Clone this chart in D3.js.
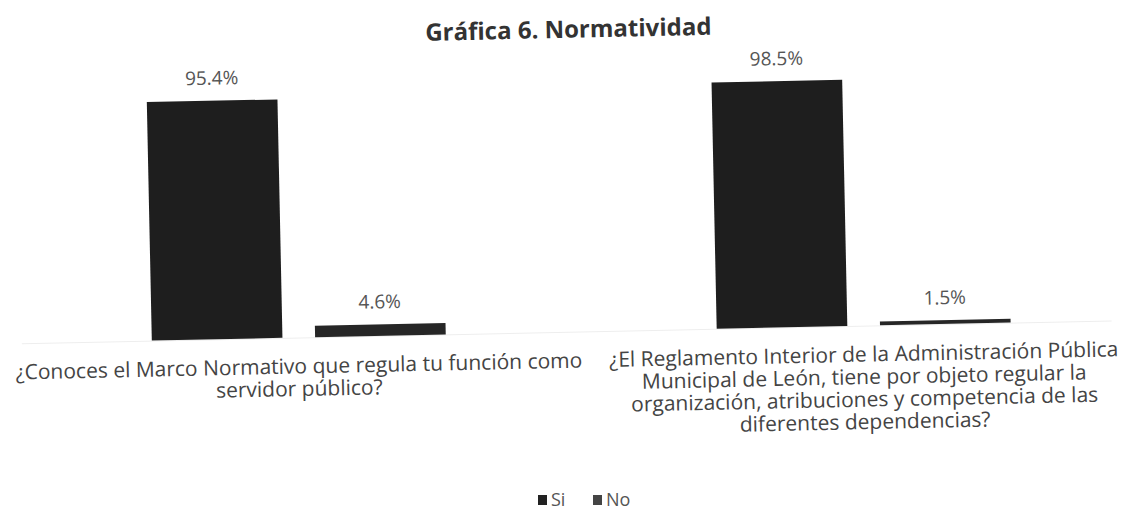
<!DOCTYPE html>
<html lang="es">
<head>
<meta charset="UTF-8">
<script src="https://d3js.org/d3.v7.min.js"></script>
<style>
  body { margin: 0; background: #fff; }
  text { font-family: "Open Sans", Lato, sans-serif; }
</style>
</head>
<body>
<div id="chart"></div>
<script>
// data
var categories = [
  "¿Conoces el Marco Normativo que regula tu función como servidor público?",
  "¿El Reglamento Interior de la Administración Pública Municipal de León, tiene por objeto regular la organización, atribuciones y competencia de las diferentes dependencias?"
];
var categoryLines = [
  ["¿Conoces el Marco Normativo que regula tu función como", "servidor público?"],
  ["¿El Reglamento Interior de la Administración Pública", "Municipal de León, tiene por objeto regular la", "organización, atribuciones y competencia de las", "diferentes dependencias?"]
];
var series = ["Si", "No"];
var siValues = [95.4, 98.5];
var noValues = [4.6, 1.5];

var width = 1125, height = 510;
var baseline = 332;

var data = categories.map(function(c, i) {
  return {cat: c, values: [{key: "Si", value: siValues[i]}, {key: "No", value: noValues[i]}]};
});

var svg = d3.select("#chart").append("svg")
  .attr("width", width)
  .attr("height", height);

// the scan is slightly tilted
var g = svg.append("g")
  .attr("transform", "rotate(-1.2, 560, 250)");

var x0 = d3.scaleBand().domain(categories).range([14, 1144]);
var x1 = d3.scaleBand().domain(series).range([136, 430]).paddingInner(0.2);
var y = d3.scaleLinear().domain([0, 100]).range([baseline, 82]);
var color = d3.scaleOrdinal().domain(series).range(["#1e1e1e", "#262626"]);

// title
g.append("text")
  .attr("x", 573).attr("y", 38)
  .attr("text-anchor", "middle")
  .style("font-size", "24px").style("font-weight", "bold")
  .style("fill", "#333")
  .text("Gráfica 6. Normatividad");

// baseline (faint)
g.append("line")
  .attr("x1", 20).attr("x2", 1110)
  .attr("y1", baseline + 0.5).attr("y2", baseline + 0.5)
  .style("stroke", "#eeeeee");

var groups = g.selectAll(".grp")
  .data(data)
  .enter().append("g")
  .attr("class", "grp")
  .attr("transform", function(d) { return "translate(" + x0(d.cat) + ",0)"; });

groups.selectAll("rect")
  .data(function(d) { return d.values; })
  .enter().append("rect")
  .attr("x", function(d) { return x1(d.key); })
  .attr("y", function(d) { return y(d.value); })
  .attr("width", x1.bandwidth())
  .attr("height", function(d) { return baseline - y(d.value); })
  .style("fill", function(d) { return color(d.key); });

groups.selectAll(".val")
  .data(function(d) { return d.values; })
  .enter().append("text")
  .attr("class", "val")
  .attr("x", function(d) { return x1(d.key) + x1.bandwidth() / 2; })
  .attr("y", function(d) { return y(d.value) - 16; })
  .attr("text-anchor", "middle")
  .style("font-size", "19px")
  .style("fill", "#555")
  .text(function(d) { return d.value.toFixed(1) + "%"; });

// category labels
groups.each(function(d, i) {
  var t = d3.select(this).append("text")
    .attr("text-anchor", "middle")
    .style("font-size", "21px")
    .style("fill", "#444");
  categoryLines[i].forEach(function(line, j) {
    t.append("tspan")
      .attr("x", x0.bandwidth() / 2)
      .attr("y", baseline + 36 + j * 22.5)
      .text(line);
  });
});

// legend
var legend = svg.append("g").attr("transform", "translate(538,506)");
var items = legend.selectAll(".leg")
  .data(series)
  .enter().append("g")
  .attr("transform", function(d, i) { return "translate(" + (i * 55) + ",0)"; });
items.append("rect")
  .attr("x", 0).attr("y", -11)
  .attr("width", 9).attr("height", 10)
  .style("fill", function(d) { return d === "Si" ? "#222" : "#444"; });
items.append("text")
  .attr("x", 13).attr("y", 0)
  .style("font-size", "18px")
  .style("fill", "#555")
  .text(function(d) { return d; });
</script>
</body>
</html>
